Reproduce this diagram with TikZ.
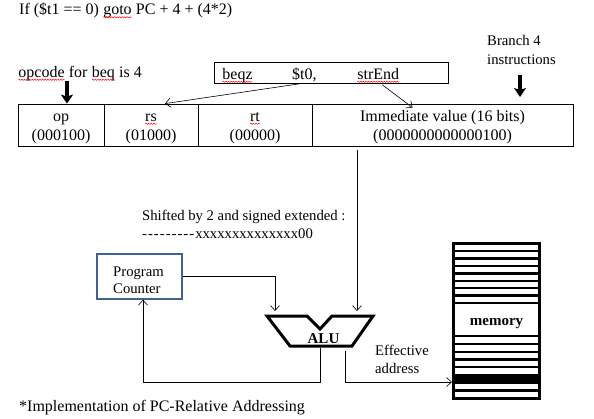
\documentclass[tikz,border=0pt]{standalone}
\usepackage{fontspec}
\setmainfont{Liberation Serif}
\newfontfamily\nolig{Liberation Serif}
\usetikzlibrary{arrows.meta,decorations.pathmorphing,calc}
\definecolor{pcblue}{HTML}{41618F}
\tikzset{
  txt/.style={anchor=base west, inner sep=0pt, font=\fontsize{16}{19}\selectfont},
  stxt/.style={anchor=base west, inner sep=0pt, font=\fontsize{14.7}{17}\selectfont},
  ctxt/.style={anchor=base, inner sep=0pt, font=\fontsize{16}{19}\selectfont},
  btxt/.style={anchor=base, inner sep=0pt, font=\fontsize{15}{18}\selectfont\bfseries},
  cell/.style={draw, line width=0.8pt, minimum height=42pt, inner sep=0pt},
  boxline/.style={draw, line width=0.8pt, inner sep=0pt},
  arr/.style={-{Straight Barb[length=5pt,width=9pt]}, line width=0.6pt},
  thickarr/.style={line width=3.4pt, -{Stealth[length=9pt,width=12pt,inset=2pt]}},
  squigline/.style={red, line width=0.5pt, decorate, decoration={snake,amplitude=0.6pt,segment length=2.6pt}},
  stripe/.style={line width=2.5pt},
}
\newcommand\squig[1]{\tikz[baseline=(w.base)]{\node[inner sep=0pt,outer sep=0pt,anchor=base](w){#1};\draw[squigline]([yshift=-2.8pt]w.base west)--([yshift=-2.8pt]w.base east);}}
\newcommand\dsh{-\kern1pt}
\begin{document}
\begin{tikzpicture}[x=1pt,y=-1pt]
\useasboundingbox[fill=white] (0,0) rectangle (594,418);

% title and labels
\node[txt] (title) at (19,14.5) {If (\$t1 == 0) \squig{goto} PC + 4 + (4*2)};
\node[txt] (opc) at (18,77) {\squig{opcode} for \squig{beq} is 4};
\node[stxt] (br1) at (487,45) {Branch 4};
\node[stxt] (br2) at (487,64) {instructions};

% instruction box
\node[boxline, minimum width=234pt, minimum height=21pt] (instr) at (331,72.5) {};
\node[txt] (beqz) at (222,79) {\squig{beqz}};
\node[txt] (t0) at (292,79) {\$t0,};
\node[txt] (strend) at (357,79) {\squig{strEnd}};

% instruction format table
\node[cell, minimum width=86pt] (op) at (61,125) {};
\node[cell, minimum width=94pt] (rs) at (151,125) {};
\node[cell, minimum width=114pt] (rt) at (255,125) {};
\node[cell, minimum width=261pt] (imm) at (442.5,125) {};
\node[ctxt] (opa) at (61,121) {op};
\node[ctxt] (opb) at (61,140) {(000100)};
\node[ctxt] (rsa) at (151,121) {\squig{rs}};
\node[ctxt] (rsb) at (151,140) {(01000)};
\node[ctxt] (rta) at (255,121) {\squig{rt}};
\node[ctxt] (rtb) at (255,140) {(00000)};
\node[ctxt] (imma) at (442.5,121) {Immediate value (16 bits)};
\node[ctxt] (immb) at (442.5,140) {(0000000000000100)};

% arrows from instruction
\draw[arr] ([xshift=-4pt,yshift=-2pt]t0.south) -- ([xshift=14pt]rs.north);
\draw[arr] ([xshift=4pt,yshift=-2pt]strend.south) -- ([xshift=-30pt,yshift=-4pt]imm.north);

% thick arrows
\coordinate (a1) at (67,81);
\draw[thickarr] (a1) -- (a1 |- op.north);
\coordinate (a2) at (520,75);
\coordinate (a2end) at (520,97);
\draw[thickarr] (a2) -- (a2end);

% shifted text
\node[stxt] (sh1) at (142,220) {Shifted by 2 and signed extended :};
\node[stxt] (sh2) at (142,238) {\nolig\dsh\dsh\dsh\dsh\dsh\dsh\dsh\dsh\dsh xxxxxxxxxxxxxx00};

% program counter
\node[draw=pcblue, line width=1.4pt, minimum width=85pt, minimum height=45pt, inner sep=0pt] (pc) at (139.5,276.5) {};
\node[stxt] (pc1) at (113,276) {Program};
\node[stxt] (pc2) at (113,293) {Counter};

% memory
\node[draw, line width=3pt, minimum width=86pt, minimum height=155pt, inner sep=0pt] (mem) at (496.5,321) {};
\foreach \yy in {251,258.4,265.9,273.3,280.8,288.2,295.7,303.1,336,344,352,359.5,367,390.5}
  \draw[stripe] (mem.west |- 0,\yy) -- (mem.east |- 0,\yy);
\fill (mem.west |- 0,374) rectangle (mem.east |- 0,384);
\node[btxt] (memt) at (496.5,325) {memory};

% ALU
\draw[line width=3pt, line join=miter] (267,316) -- (307,316) -- (320,329) -- (332,316) -- (373,316) -- (352,346) -- (290,346) -- cycle;
\node[btxt] (alu) at (323.5,343) {ALU};

% connectors to / from ALU
\coordinate (immout) at (357,150);
\coordinate (aluB) at (357,311);
\draw[arr] (immout) -- (aluB);
\coordinate (aluA) at (275,311);
\draw[arr] (pc.east) -| (aluA);
\coordinate (aluout) at (320,347.5);
\coordinate (loop) at (320,382);
\draw[arr] (aluout) -- (loop) -| ([xshift=3.5pt]pc.south);
\coordinate (effout) at (345,351);
\draw[arr] (effout) |- (mem.west |- loop);

\node[stxt] (eff1) at (375,355) {Effective};
\node[stxt] (eff2) at (375,373) {address};

\node[txt] (cap) at (19,411) {*Implementation of PC-Relative Addressing};
\end{tikzpicture}
\end{document}
